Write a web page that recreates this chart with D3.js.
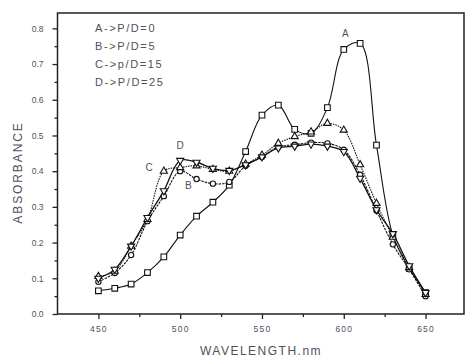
<!DOCTYPE html>
<html><head><meta charset="utf-8">
<script src="https://cdn.jsdelivr.net/npm/d3@7"></script>
<style>body{margin:0;background:#fff}svg{display:block}</style>
</head><body>
<svg id="c" width="465" height="356"></svg>
<script>
// ---- data ----
const wlA = [450,460,470,480,490,500,510,520,530,540,550,560,570,580,590,600,610,620,630,640,650];
const seriesA = [0.065,0.072,0.084,0.116,0.160,0.221,0.274,0.313,0.361,0.455,0.557,0.585,0.517,0.506,0.578,0.741,0.758,0.473,0.221,0.128,0.060];
const wl = [450,460,470,480,490,500,510,520,530,540,550,560,570,580,590,600,610,620,630,640,650];
const seriesB = [0.090,0.115,0.165,0.260,0.330,0.400,0.378,0.365,0.370,0.415,0.440,0.468,0.474,0.480,0.478,0.460,0.390,0.290,0.195,0.125,0.050];
const seriesC = [0.105,0.120,0.190,0.265,0.400,0.410,0.415,0.405,0.400,0.420,0.445,0.478,0.497,0.510,0.534,0.515,0.418,0.310,0.215,0.130,0.055];
const seriesD = [0.100,0.125,0.190,0.270,0.345,0.430,0.425,0.408,0.402,0.418,0.440,0.465,0.470,0.476,0.470,0.455,0.380,0.292,0.225,0.135,0.060];
const legendLines = ["A->P/D=0","B->P/D=5","C->p/D=15","D->P/D=25"];
const curveLabels = [{t:"A",x:601,y:0.775},{t:"D",x:500,y:0.463},{t:"C",x:481,y:0.400},{t:"B",x:505,y:0.350}];
const xTicks = [450,500,550,600,650];
const xMinor = [475,525,575,625];
const yTicks = [0.0,0.1,0.2,0.3,0.4,0.5,0.6,0.7,0.8];
const yMinor = [0.05,0.15,0.25,0.35,0.45,0.55,0.65,0.75];

// ---- layout ----
const L=57.5, R=464, T=13, B=314;
const x = d3.scaleLinear().domain([425,673.5]).range([L,R]);
const y = d3.scaleLinear().domain([0,0.843]).range([B,T]);
const svg = d3.select("#c");
const font = "'Liberation Sans', Arial, sans-serif";
const txt = "#50505c";

// frame
svg.append("rect").attr("x",L).attr("y",T).attr("width",R-L).attr("height",B-T)
  .attr("fill","none").attr("stroke","#222").attr("stroke-width",1.5);

// axes
const yAx = svg.append("g").attr("transform",`translate(${L},0)`)
  .call(d3.axisLeft(y).tickValues(yTicks).tickFormat(d3.format(".1f")).tickSize(5).tickPadding(9));
const yAxm = svg.append("g").attr("transform",`translate(${L},0)`)
  .call(d3.axisLeft(y).tickValues(yMinor).tickFormat("").tickSize(3));
const xAx = svg.append("g").attr("transform",`translate(0,${B})`)
  .call(d3.axisBottom(x).tickValues(xTicks).tickFormat(d3.format("d")).tickSize(5).tickPadding(7));
const xAxm = svg.append("g").attr("transform",`translate(0,${B})`)
  .call(d3.axisBottom(x).tickValues(xMinor).tickFormat("").tickSize(3));
[yAx,yAxm,xAx,xAxm].forEach(g=>{
  g.select(".domain").remove();
  g.selectAll("line").attr("stroke","#222").attr("stroke-width",1.3);
  g.selectAll("text").attr("font-family",font).attr("font-size",8.5).attr("fill",txt);
});
xAx.selectAll("text").attr("letter-spacing",1.2);

// axis titles
svg.append("text").attr("transform","translate(21.5,172.5) rotate(-90)")
  .attr("text-anchor","middle").attr("font-family",font).attr("font-size",12)
  .attr("letter-spacing",1.9).attr("fill",txt).text("ABSORBANCE");
svg.append("text").attr("x",261).attr("y",354.5)
  .attr("text-anchor","middle").attr("font-family",font).attr("font-size",12)
  .attr("letter-spacing",1.5).attr("fill",txt).text("WAVELENGTH.nm");

// legend
svg.append("g").selectAll("text").data(legendLines).join("text")
  .attr("x",95).attr("y",(d,i)=>31.7+i*18)
  .attr("font-family",font).attr("font-size",11).attr("letter-spacing",1.6)
  .attr("fill",txt).text(d=>d);

// curve labels
svg.append("g").selectAll("text").data(curveLabels).join("text")
  .attr("x",d=>x(d.x)).attr("y",d=>y(d.y)).attr("text-anchor","middle")
  .attr("font-family",font).attr("font-size",10).attr("fill",txt).text(d=>d.t);

// series
const series = [
  {xs:wlA, ys:seriesA, sym:d3.symbolSquare, size:32, rot:0, dash:null, w:1.1},
  {xs:wl, ys:seriesB, sym:d3.symbolCircle, size:22, rot:0, dash:"2.5,1", w:1.1},
  {xs:wl, ys:seriesC, sym:d3.symbolTriangle, size:22, rot:0, dash:"1.5,1", w:1.1},
  {xs:wl, ys:seriesD, sym:d3.symbolTriangle, size:22, rot:180, dash:null, w:1.3}
];
const line = d3.line().x(d=>x(d[0])).y(d=>y(d[1])).curve(d3.curveCatmullRom.alpha(0.5));
series.forEach(s=>{
  const pts = s.xs.map((v,i)=>[v,s.ys[i]]);
  svg.append("path").datum(pts).attr("d",line).attr("fill","none")
    .attr("stroke","#111").attr("stroke-width",s.w).attr("stroke-dasharray",s.dash);
});
series.forEach(s=>{
  const pts = s.xs.map((v,i)=>[v,s.ys[i]]);
  svg.append("g").selectAll("path").data(pts).join("path")
    .attr("d",d3.symbol(s.sym,s.size))
    .attr("transform",d=>`translate(${x(d[0])},${y(d[1])}) rotate(${s.rot})`)
    .attr("fill","#fff").attr("stroke","#111").attr("stroke-width",1.1);
});
</script>
</body></html>
